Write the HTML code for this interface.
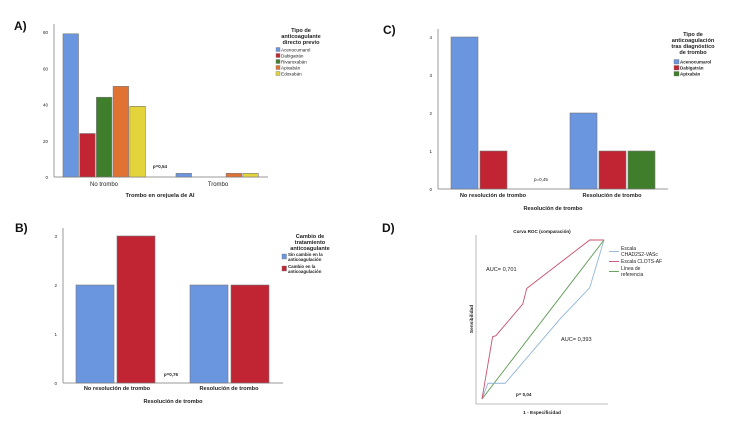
<!DOCTYPE html>
<html><head><meta charset="utf-8"><style>
body{margin:0;background:#fff;width:750px;height:422px;overflow:hidden;font-family:"Liberation Sans",sans-serif}
svg{position:absolute;left:0;top:0}
</style></head><body>
<svg id="s" width="750" height="422" viewBox="0 0 750 422">
<g font-weight="bold" font-size="12" fill="#111">
<text x="14" y="30">A)</text>
<text x="383" y="34">C)</text>
<text x="15" y="232">B)</text>
<text x="382" y="232">D)</text>
</g>
</svg>
<script>
// Panel A data
const catsA=["No trombo","Trombo"];
const seriesA=["Acenocumarol","Dabigatrán","Rivaroxabán","Apixabán","Edoxabán"];
const valsA=[[79,2],[24,0],[44,0],[50,2],[39,2]];
const ticksA=[0,20,40,60,80];
// Panel C data
const catsC=["No resolución de trombo","Resolución de trombo"];
const seriesC=["Acenocumarol","Dabigatrán","Apixabán"];
const valsC=[[4,2],[1,1],[0,1]];
const ticksC=[0,1,2,3,4];
// Panel B data
const catsB=["No resolución de trombo","Resolución de trombo"];
const seriesB=["Sin cambio en la anticoagulación","Cambio en la anticoagulación"];
const valsB=[[2,2],[3,2]];
const ticksB=[0,1,2,3];
// Panel D data (ROC)
const rocRedX=[0,0.087,0.114,0.334,0.367,0.883,1];
const rocRedY=[0,0.392,0.398,0.597,0.696,1,1];
const rocBlueX=[0,0.049,0.190,0.639,0.883,1];
const rocBlueY=[0,0.099,0.099,0.503,0.700,1];

const NS="http://www.w3.org/2000/svg";
const svg=document.getElementById('s');
function mk(tag,attrs,parent){const e=document.createElementNS(NS,tag);for(const k in attrs)e.setAttribute(k,attrs[k]);(parent||svg).appendChild(e);return e;}
function txt(x,y,s,size,opts,name){const t=mk('text',Object.assign({x:x,y:y,'font-size':size,fill:'#222'},opts||{}));t.textContent=s;


return t;}

function barChart(cfg){
 const {x0,x1,yb,yt,vmax,cats,series,vals,ticks,colors,barW,gap,starts,name}=cfg;
 const ys=v=>yb-(v/vmax)*(yb-yt);
 const ax=mk('line',{x1:x0,y1:yt-8,x2:x0,y2:yb,stroke:'#999','stroke-width':1});
 
 
 const bx=mk('line',{x1:x0,y1:yb,x2:x1,y2:yb,stroke:'#999','stroke-width':1});
 
 
 ticks.forEach(t=>{txt(x0-6,ys(t)+2,String(t),4.5,{'text-anchor':'end'},name+'-y-tick');});
 cats.forEach((c,ci)=>{
  series.forEach((s,si)=>{
   const v=vals[si][ci]; if(v<=0) return;
   const bx0=starts[ci]+si*(barW+gap);
   const r=mk('rect',{x:bx0,y:ys(v),width:barW,height:yb-ys(v),fill:colors[si],stroke:'#777','stroke-width':0.6});
   
   
  });
 });
 return ys;
}
const BL='#6a96e0',RD='#c12534',GR='#3f7f2c',OR='#e07334',YL='#e4d43c';

// Panel A
barChart({name:'chart-a',x0:54,x1:268,yb:177,yt:32,vmax:80,cats:catsA,series:seriesA,vals:valsA,ticks:ticksA,colors:[BL,RD,GR,OR,YL],barW:15.5,gap:1.2,starts:[63,176]});
txt(104,186,catsA[0],6,{'text-anchor':'middle'},'x-category-label');
txt(218,186,catsA[1],6,{'text-anchor':'middle'},'x-category-label');
txt(160,197,"Trombo en orejuela de AI",5.8,{'text-anchor':'middle','font-weight':'bold'},'x-axis-title');
txt(160,168,"p=0,54",4.5,{'text-anchor':'middle','font-weight':'bold'},'p-value');
["Tipo de","anticoagulante","directo previo"].forEach((l,i)=>txt(301,32+i*6,l,5.6,{'text-anchor':'middle','font-weight':'bold'},'legend-title'));
seriesA.forEach((s,i)=>{const r=mk('rect',{x:276,y:47.5+i*6,width:4,height:4,fill:[BL,RD,GR,OR,YL][i],stroke:'#777','stroke-width':0.4});


txt(281,51.5+i*6,s,4.6,{},'legend-entry');});

// Panel C
barChart({name:'chart-c',x0:438,x1:668,yb:189,yt:37,vmax:4,cats:catsC,series:seriesC,vals:valsC,ticks:ticksC,colors:[BL,RD,GR],barW:27,gap:2,starts:[451,570]});
txt(493,197,catsC[0],5.6,{'text-anchor':'middle','font-weight':'bold'},'x-category-label');
txt(612,197,catsC[1],5.6,{'text-anchor':'middle','font-weight':'bold'},'x-category-label');
txt(553,210,"Resolución de trombo",5.6,{'text-anchor':'middle','font-weight':'bold'},'x-axis-title');
txt(541,181,"p=0,45",4.5,{'text-anchor':'middle'},'p-value');
["Tipo de","anticoagulación","tras diagnóstico","de trombo"].forEach((l,i)=>txt(693,36+i*6,l,5.6,{'text-anchor':'middle','font-weight':'bold'},'legend-title'));
seriesC.forEach((s,i)=>{const r=mk('rect',{x:674,y:59.5+i*6,width:5,height:4.5,fill:[BL,RD,GR][i],stroke:'#777','stroke-width':0.4});


txt(680,63.5+i*6,s,4.5,{'font-weight':'bold'},'legend-entry');});

// Panel B
barChart({name:'chart-b',x0:63,x1:283,yb:383,yt:236,vmax:3,cats:catsB,series:seriesB,vals:valsB,ticks:ticksB,colors:[BL,RD],barW:38,gap:3,starts:[76,190]});
txt(117,390,catsB[0],5.6,{'text-anchor':'middle','font-weight':'bold'},'x-category-label');
txt(229,390,catsB[1],5.6,{'text-anchor':'middle','font-weight':'bold'},'x-category-label');
txt(173,403,"Resolución de trombo",5.6,{'text-anchor':'middle','font-weight':'bold'},'x-axis-title');
txt(171,376,"p=0,76",4.5,{'text-anchor':'middle','font-weight':'bold'},'p-value');
["Cambio de","tratamiento","anticoagulante"].forEach((l,i)=>txt(310,238+i*6,l,5.6,{'text-anchor':'middle','font-weight':'bold'},'legend-title'));
[["Sin cambio en la","anticoagulación"],["Cambio en la","anticoagulación"]].forEach((ls,i)=>{const r=mk('rect',{x:282,y:254+i*12,width:4.5,height:5,fill:[BL,RD][i],stroke:'#777','stroke-width':0.4});


ls.forEach((l,j)=>txt(288,256+i*12+j*5,l,4.4,{'font-weight':'bold'},'legend-entry'));});

// Panel D ROC
const ox=482,oy=399,tx=604,ty=240;
const sx=f=>ox+f*(tx-ox), sy=f=>oy-f*(oy-ty);
let l=mk('line',{x1:476,y1:235,x2:476,y2:404,stroke:'#aaa','stroke-width':0.8});


l=mk('line',{x1:476,y1:404,x2:608,y2:404,stroke:'#aaa','stroke-width':0.8});


function poly(xs,ys,col,name){const p=mk('polyline',{points:xs.map((x,i)=>sx(x)+','+sy(ys[i])).join(' '),fill:'none',stroke:col,'stroke-width':0.9});

}
poly([0,1],[0,1],'#5a9a50','roc-reference-line');
poly(rocBlueX,rocBlueY,'#8fb4d8','roc-chads-line');
poly(rocRedX,rocRedY,'#c8506a','roc-clots-line');
txt(542,233,"Curva ROC (comparación)",4.6,{'text-anchor':'middle','font-weight':'bold'},'chart-d-title');
txt(486,271,"AUC= 0,701",5.6,{},'auc-clots');
txt(561,341,"AUC= 0,393",5.6,{},'auc-chads');
txt(516,396,"p= 0,04",4.5,{'font-weight':'bold'},'p-value');
txt(542,414,"1 - Especificidad",4.8,{'text-anchor':'middle','font-weight':'bold'},'x-axis-title');
txt(0,0,"Sensibilidad",4.8,{'text-anchor':'middle','font-weight':'bold',transform:'translate(473,319) rotate(-90)'},'y-axis-title');
[['#8fb4d8',["Escala","CHAD2S2-VASc"],250],['#c8506a',["Escala CLOTS-AF"],263],['#5a9a50',["Línea de","referencia"],270]].forEach(([c,ls,y])=>{
 const ln=mk('line',{x1:609,y1:y+(ls.length>1?1.5:-1.5),x2:619,y2:y+(ls.length>1?1.5:-1.5),stroke:c,'stroke-width':0.9});
 
 
 ls.forEach((t,j)=>txt(621,y+j*6,t,5,{},'roc-legend-entry'));
});
</script>
</body></html>
